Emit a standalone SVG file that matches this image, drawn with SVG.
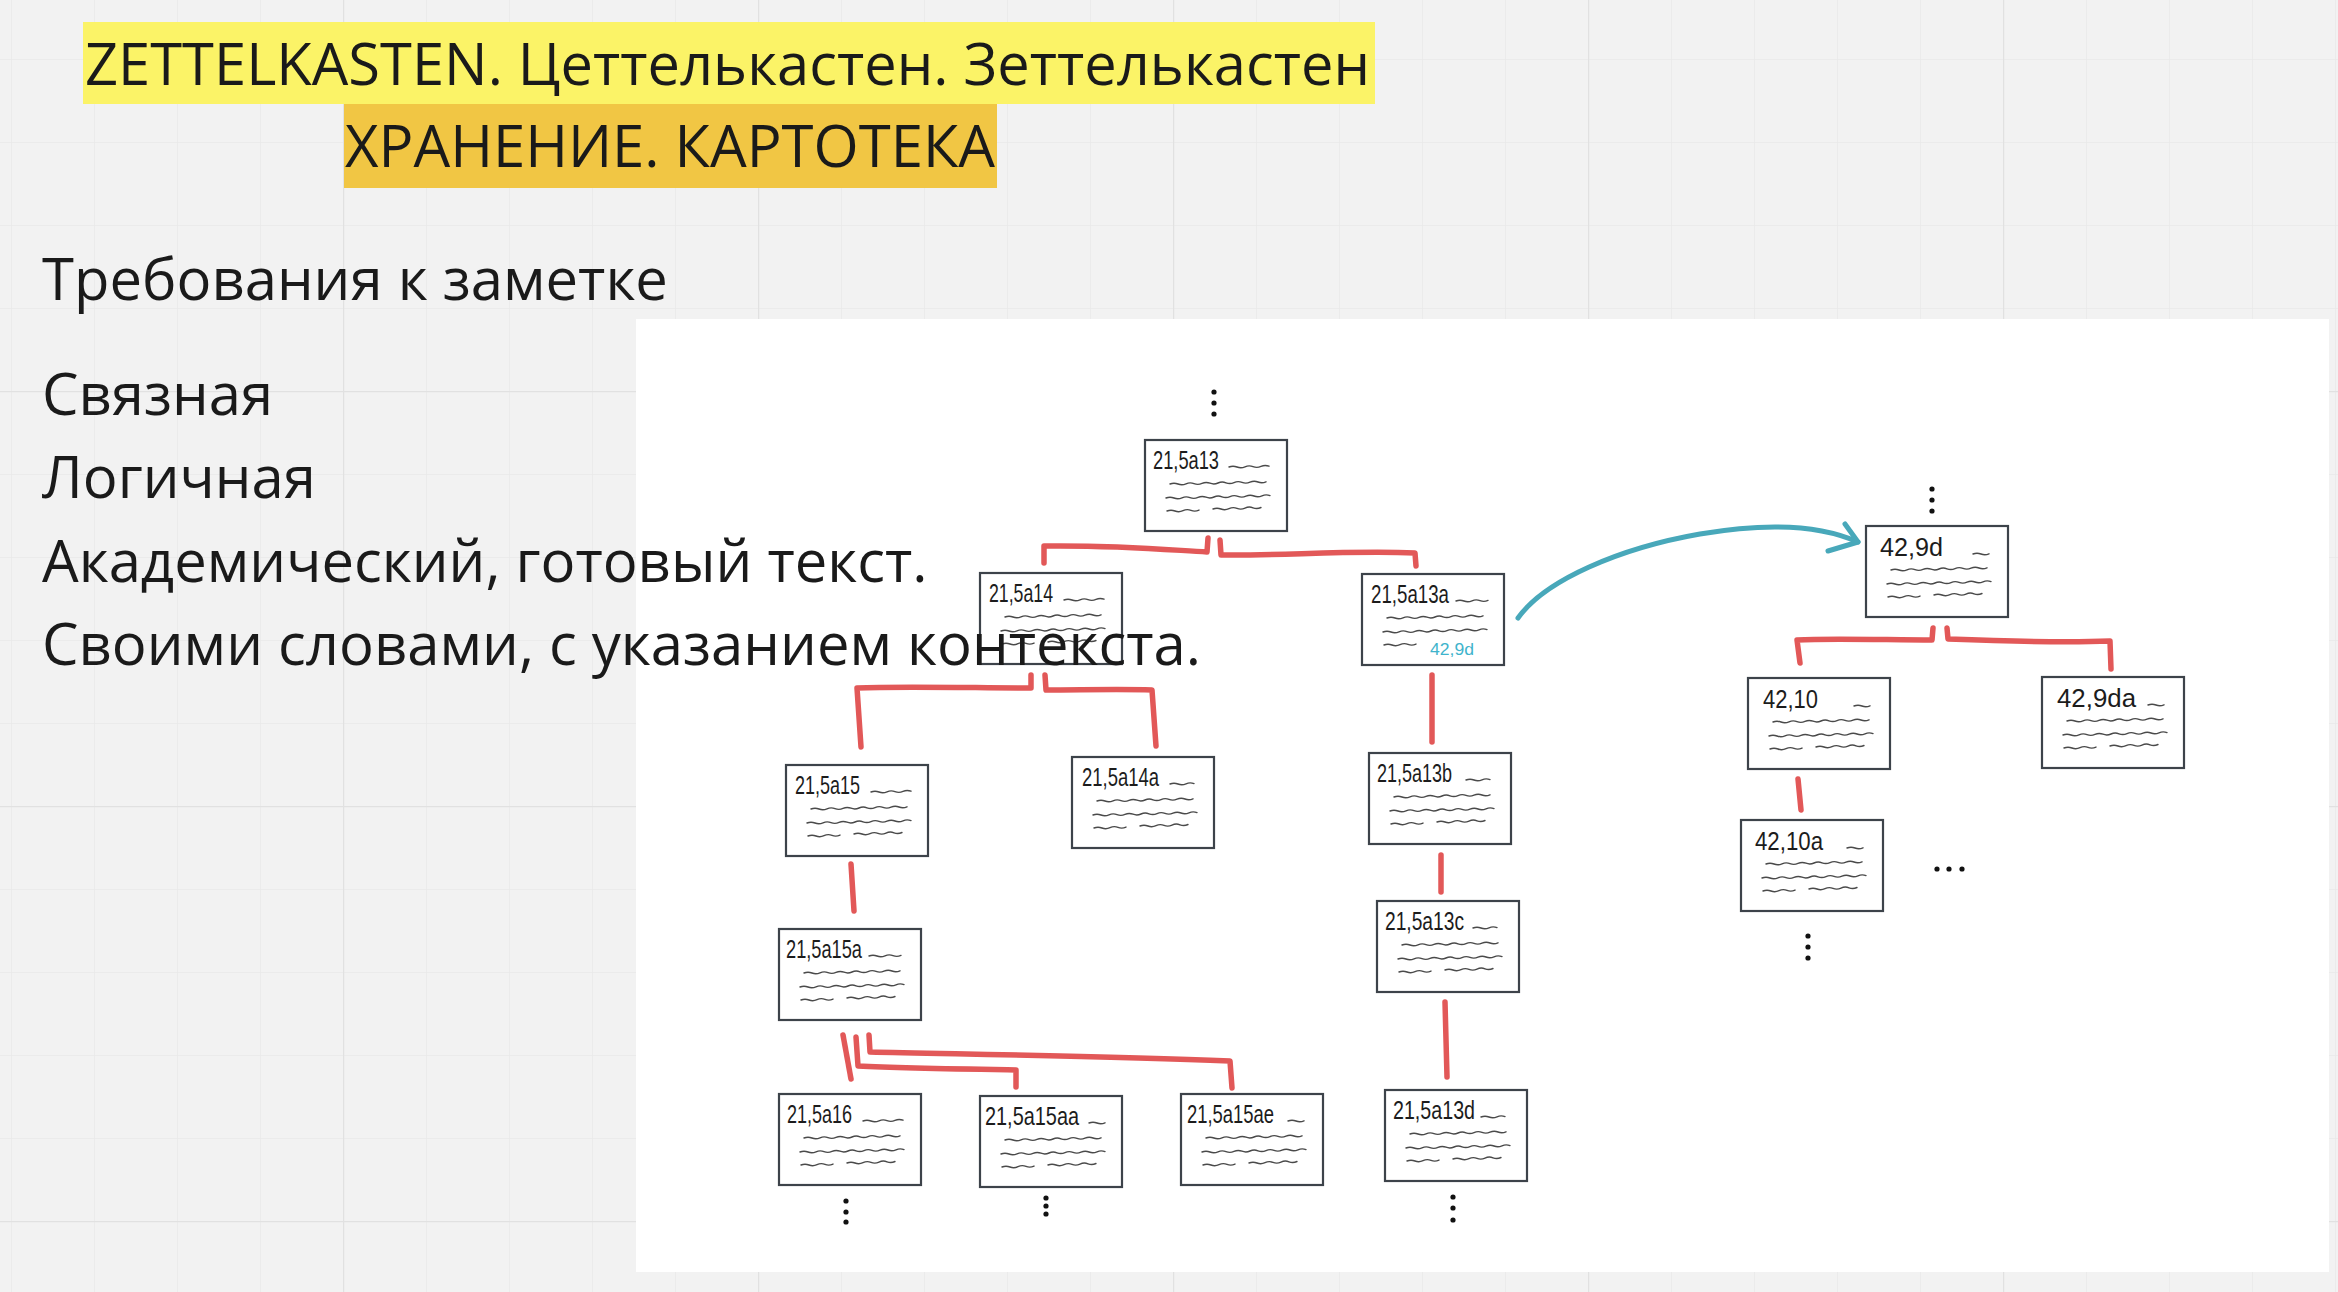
<svg xmlns="http://www.w3.org/2000/svg" width="2338" height="1292" viewBox="0 0 2338 1292">
<style>
.t{font-family:"Open Sans","Noto Sans","Liberation Sans",sans-serif;font-size:58px;fill:#1a1a1a}
.card{fill:#fff;stroke:#3d434a;stroke-width:2.2}
.lbl{font-family:"Liberation Sans","DejaVu Sans",sans-serif;font-size:26px;fill:#1c1c1c}
.sq{fill:none;stroke:#4a4a4a;stroke-width:1.4;stroke-linecap:round}
.red{fill:none;stroke:#e25858;stroke-width:5.5;stroke-linecap:round;stroke-linejoin:round}
.blue{fill:none;stroke:#48a8ba;stroke-width:5;stroke-linecap:round;stroke-linejoin:round}
.dot{fill:#111}
</style>
<defs>
<pattern id="minor" x="11" y="59" width="83" height="83" patternUnits="userSpaceOnUse">
<path d="M0,0 V83 M0,0 H83" stroke="#e9e9e9" stroke-width="1.5" fill="none"/>
</pattern>
<pattern id="major" x="343" y="391" width="415" height="415" patternUnits="userSpaceOnUse">
<path d="M0,0 V415 M0,0 H415" stroke="#e1e1e1" stroke-width="2.5" fill="none"/>
</pattern>
<path id="sq2" class="sq" d="M0,0 q4,-1.6 8,0 t8,-0.2"/>
<path id="sq3" class="sq" d="M0,0 q4,-1.6 8,0 t8,-0.2 t8,-0.2"/>
<path id="sq4" class="sq" d="M0,0 q4,-1.6 8,0 t8,-0.2 t8,-0.2 t8,-0.2"/>
<path id="sq5" class="sq" d="M0,0 q4,-1.6 8,0 t8,-0.2 t8,-0.2 t8,-0.2 t8,-0.2"/>
<g id="body2">
<path class="sq" d="M25,44 q4,-1.6 8,0 t8,-0.2 t8,-0.2 t8,-0.2 t8,-0.2 t8,-0.2 t8,-0.2 t8,-0.2 t8,-0.2 t8,-0.2 t8,-0.2 t8,-0.2"/>
<path class="sq" d="M21,58 q4,-1.6 8,0 t8,-0.2 t8,-0.2 t8,-0.2 t8,-0.2 t8,-0.2 t8,-0.2 t8,-0.2 t8,-0.2 t8,-0.2 t8,-0.2 t8,-0.2 t8,-0.2"/>
<path class="sq" d="M22,71 q4,-1.6 8,0 t8,-0.3 t8,-0.3 t8,-0.3"/>
</g>
<g id="body">
<use href="#body2"/>
<path class="sq" d="M68,69 q4,-1.6 8,0 t8,-0.3 t8,-0.3 t8,-0.3 t8,-0.3 t8,-0.3"/>
</g>
</defs>

<rect width="2338" height="1292" fill="#f2f2f2"/>
<rect width="2338" height="1292" fill="url(#minor)"/>
<rect width="2338" height="1292" fill="url(#major)"/>

<g id="title1">
<rect x="83" y="22" width="1292" height="82" fill="#fbf367"/>
<text class="t" x="85" y="85" textLength="1285" lengthAdjust="spacingAndGlyphs">ZETTELKASTEN. Цеттелькастен. Зеттелькастен</text>
</g>
<g id="title2">
<rect x="344" y="104" width="653" height="84" fill="#f1c644"/>
<text class="t" x="345" y="167" textLength="650" lengthAdjust="spacingAndGlyphs">ХРАНЕНИЕ. КАРТОТЕКА</text>
</g>

<rect id="panel" x="636" y="319" width="1693" height="953" fill="#ffffff"/>

<g id="connectors">
<path class="red" d="M1208,538 L1207,552 C1170,550 1120,545 1044,546 L1044,563"/>
<path class="red" d="M1220,540 L1221,555 C1280,556 1350,550 1415,553 L1416,566"/>
<path class="red" d="M1031,675 L1031,688 C980,688 900,686 857,688 L861,747"/>
<path class="red" d="M1045,675 L1046,690 C1080,690 1120,689 1152,690 L1156,746"/>
<path class="red" d="M1432,675 L1432,742"/>
<path class="red" d="M1441,855 L1441,892"/>
<path class="red" d="M1445,1002 L1447,1077"/>
<path class="red" d="M851,864 L854,911"/>
<path class="red" d="M843,1035 L851,1079"/>
<path class="red" d="M856,1037 L858,1066 C900,1068 960,1069 1016,1070 L1016,1087"/>
<path class="red" d="M869,1035 L870,1052 C950,1054 1100,1056 1230,1061 L1232,1088"/>
<path class="red" d="M1933,628 L1932,640 C1890,640 1830,638 1797,640 L1800,663"/>
<path class="red" d="M1947,628 L1948,639 C2000,641 2060,643 2110,641 L2111,669"/>
<path class="red" d="M1798,779 L1801,810"/>
<path class="blue" d="M1518,618 C1545,580 1620,548 1700,534 C1770,522 1820,525 1858,542"/>
<path class="blue" d="M1845,524 L1858,542 L1828,551"/>
</g>

<g id="n-21-5a13" transform="translate(1145,440)"><rect class="card" width="142" height="91"/><text class="lbl" x="8" y="29" textLength="66" lengthAdjust="spacingAndGlyphs">21,5a13</text><use href="#sq5" x="84" y="27"/><use href="#body"/></g>
<g id="n-21-5a14" transform="translate(980,573)"><rect class="card" width="142" height="91"/><text class="lbl" x="9" y="29" textLength="64" lengthAdjust="spacingAndGlyphs">21,5a14</text><use href="#sq5" x="84" y="27"/><use href="#body"/></g>
<g id="n-21-5a13a" transform="translate(1362,574)"><rect class="card" width="142" height="91"/><text class="lbl" x="9" y="29" textLength="78" lengthAdjust="spacingAndGlyphs">21,5a13a</text><use href="#sq4" x="94" y="27"/><use href="#body2"/><text x="68" y="81" textLength="44" lengthAdjust="spacingAndGlyphs" style="font-family:'Liberation Sans',sans-serif;font-size:16px;fill:#3fb4cc">42,9d</text></g>
<g id="n-21-5a15" transform="translate(786,765)"><rect class="card" width="142" height="91"/><text class="lbl" x="9" y="29" textLength="65" lengthAdjust="spacingAndGlyphs">21,5a15</text><use href="#sq5" x="85" y="27"/><use href="#body"/></g>
<g id="n-21-5a14a" transform="translate(1072,757)"><rect class="card" width="142" height="91"/><text class="lbl" x="10" y="29" textLength="77" lengthAdjust="spacingAndGlyphs">21,5a14a</text><use href="#sq3" x="98" y="27"/><use href="#body"/></g>
<g id="n-21-5a13b" transform="translate(1369,753)"><rect class="card" width="142" height="91"/><text class="lbl" x="8" y="29" textLength="75" lengthAdjust="spacingAndGlyphs">21,5a13b</text><use href="#sq3" x="97" y="27"/><use href="#body"/></g>
<g id="n-21-5a13c" transform="translate(1377,901)"><rect class="card" width="142" height="91"/><text class="lbl" x="8" y="29" textLength="79" lengthAdjust="spacingAndGlyphs">21,5a13c</text><use href="#sq3" x="96" y="27"/><use href="#body"/></g>
<g id="n-21-5a13d" transform="translate(1385,1090)"><rect class="card" width="142" height="91"/><text class="lbl" x="8" y="29" textLength="82" lengthAdjust="spacingAndGlyphs">21,5a13d</text><use href="#sq3" x="96" y="27"/><use href="#body"/></g>
<g id="n-21-5a15a" transform="translate(779,929)"><rect class="card" width="142" height="91"/><text class="lbl" x="7" y="29" textLength="76" lengthAdjust="spacingAndGlyphs">21,5a15a</text><use href="#sq4" x="90" y="27"/><use href="#body"/></g>
<g id="n-21-5a16" transform="translate(779,1094)"><rect class="card" width="142" height="91"/><text class="lbl" x="8" y="29" textLength="65" lengthAdjust="spacingAndGlyphs">21,5a16</text><use href="#sq5" x="84" y="27"/><use href="#body"/></g>
<g id="n-21-5a15aa" transform="translate(980,1096)"><rect class="card" width="142" height="91"/><text class="lbl" x="5" y="29" textLength="94" lengthAdjust="spacingAndGlyphs">21,5a15aa</text><use href="#sq2" x="109" y="27"/><use href="#body"/></g>
<g id="n-21-5a15ae" transform="translate(1181,1094)"><rect class="card" width="142" height="91"/><text class="lbl" x="6" y="29" textLength="87" lengthAdjust="spacingAndGlyphs">21,5a15ae</text><use href="#sq2" x="107" y="27"/><use href="#body"/></g>
<g id="n-42-9d" transform="translate(1866,526)"><rect class="card" width="142" height="91"/><text class="lbl" x="14" y="30" textLength="63" lengthAdjust="spacingAndGlyphs">42,9d</text><use href="#sq2" x="107" y="28"/><use href="#body"/></g>
<g id="n-42-10" transform="translate(1748,678)"><rect class="card" width="142" height="91"/><text class="lbl" x="15" y="30" textLength="55" lengthAdjust="spacingAndGlyphs">42,10</text><use href="#sq2" x="106" y="28"/><use href="#body"/></g>
<g id="n-42-9da" transform="translate(2042,677)"><rect class="card" width="142" height="91"/><text class="lbl" x="15" y="30" textLength="79" lengthAdjust="spacingAndGlyphs">42,9da</text><use href="#sq2" x="106" y="28"/><use href="#body"/></g>
<g id="n-42-10a" transform="translate(1741,820)"><rect class="card" width="142" height="91"/><text class="lbl" x="14" y="30" textLength="68" lengthAdjust="spacingAndGlyphs">42,10a</text><use href="#sq2" x="106" y="28"/><use href="#body"/></g>

<g id="ellipses">
<circle class="dot" cx="1214" cy="392" r="2.6"/><circle class="dot" cx="1214" cy="403" r="2.6"/><circle class="dot" cx="1214" cy="414" r="2.6"/>
<circle class="dot" cx="846" cy="1201" r="2.6"/><circle class="dot" cx="846" cy="1212" r="2.6"/><circle class="dot" cx="846" cy="1222" r="2.6"/>
<circle class="dot" cx="1046" cy="1198" r="2.6"/><circle class="dot" cx="1046" cy="1206" r="2.6"/><circle class="dot" cx="1046" cy="1214" r="2.6"/>
<circle class="dot" cx="1453" cy="1197" r="2.6"/><circle class="dot" cx="1453" cy="1208" r="2.6"/><circle class="dot" cx="1453" cy="1220" r="2.6"/>
<circle class="dot" cx="1932" cy="489" r="2.6"/><circle class="dot" cx="1932" cy="500" r="2.6"/><circle class="dot" cx="1932" cy="511" r="2.6"/>
<circle class="dot" cx="1808" cy="936" r="2.6"/><circle class="dot" cx="1808" cy="947" r="2.6"/><circle class="dot" cx="1808" cy="958" r="2.6"/>
<circle class="dot" cx="1937" cy="869" r="2.6"/><circle class="dot" cx="1949" cy="869" r="2.6"/><circle class="dot" cx="1962" cy="869" r="2.6"/>
</g>

<g id="requirements">
<text class="t" x="42" y="300">Требования к заметке</text>
<text class="t" x="42" y="415">Связная</text>
<text class="t" x="42" y="498">Логичная</text>
<text class="t" x="42" y="582">Академический, готовый текст.</text>
<text class="t" x="42" y="665">Своими словами, с указанием контекста.</text>
</g>
</svg>
